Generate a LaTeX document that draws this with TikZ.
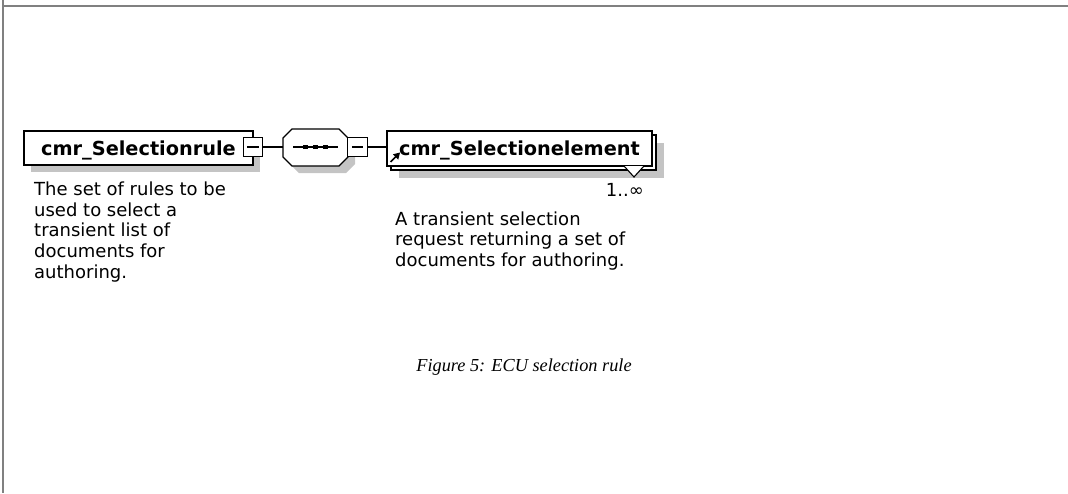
\documentclass[tikz,border=0pt]{standalone}
\usepackage{fontspec}
\setmainfont{DejaVu Sans}
\newfontfamily\capfont{Liberation Serif}
\definecolor{framegray}{HTML}{808080}
\definecolor{shadowgray}{HTML}{C4C4C4}
\tikzset{
  elembox/.style={draw, fill=white, line width=1.3pt, inner sep=0pt, outer sep=0pt,
    font=\bfseries\fontsize{19.3}{22}\selectfont, text height=14pt, text depth=0pt},
  shadowbox/.style={fill=shadowgray, draw=none, inner sep=0pt, outer sep=0pt},
  collapse/.style={draw, fill=white, line width=1.2pt, minimum size=19.5pt, inner sep=0pt, outer sep=0pt},
  seqanchor/.style={draw=none, inner sep=0pt, outer sep=0pt, minimum width=65pt, minimum height=37pt},
  desc/.style={align=left, inner sep=0pt, font=\fontsize{18}{20.6}\selectfont},
  wire/.style={line width=1.2pt},
}
% octagon outline of the sequence compositor, centred on the current origin
\def\octpath{(-32.5,-9.5) -- (-23.5,-18.5) -- (23.5,-18.5) -- (32.5,-9.5) -- (32.5,9.5) -- (23.5,18.5) -- (-23.5,18.5) -- (-32.5,9.5) -- cycle}
\begin{document}
\begin{tikzpicture}[x=1pt,y=-1pt]
\useasboundingbox (0,0) rectangle (1068,493);

% page frame
\draw[framegray, line width=1.6pt] (3,0) -- (3,493);
\draw[framegray, line width=1.6pt] (3,6) -- (1068,6);

% shadows
\node[shadowbox, minimum width=229pt, minimum height=34pt] (ruleshadow) at (145.5,155) {};
\begin{scope}[shift={(322.5,154.5)}]
  \fill[shadowgray] \octpath;
\end{scope}
\node[shadowbox, minimum width=265pt, minimum height=35pt] (elemshadow) at (531.5,160.5) {};

% element cmr_Selectionrule
\node[elembox, minimum width=229pt, minimum height=34pt] (rule) at (138.5,148) {cmr\_Selectionrule};
\node[collapse] (sq1) at (253,147) {};
\draw[line width=1.2pt] ([xshift=4pt]sq1.west) -- ([xshift=-4pt]sq1.east);

% sequence compositor
\node[seqanchor] (seq) at (315.5,147.5) {};
\begin{scope}[shift={(seq.center)}]
  \filldraw[fill=white, line width=1.2pt] \octpath;
\end{scope}
\draw[line width=1.2pt] (293,147) -- (338,147);
\foreach \dx in {305,315,325} \fill (\dx-2.5,145) rectangle (\dx+2.5,149);
\node[collapse] (sq2) at (357.5,147) {};
\draw[line width=1.2pt] ([xshift=4pt]sq2.west) -- ([xshift=-4pt]sq2.east);

% element cmr_Selectionelement (repeated: stacked boxes)
\node[elembox, minimum width=265pt, minimum height=35pt] (back) at (523.5,152.5) {};
\node[elembox, minimum width=265pt, minimum height=35pt] (sel) at (519.5,148.5) {cmr\_Selectionelement};
\draw[line width=1.6pt] (390.5,162) -- (396,156.5);
\fill (400,152.5) -- (392.8,154.3) -- (398.2,159.7) -- cycle;
\draw[line width=1.1pt, fill=white] (624,166) -- (634,177) -- (644,166);

% connectors
\draw[wire] (sq1.east) -- (sq1.east -| seq.west);
\draw[wire] (sq2.east) -- (sq2.east -| sel.west);

% cardinality and annotations
\node[desc, anchor=base east] (card) at (644,196.5) {1..∞};
\node[desc, anchor=base west] (d1) at (34,278) {The set of rules to be\\used to select a\\transient list of\\documents for\\authoring.};
\node[desc, anchor=base west] (d2) at (395,266.5) {A transient selection\\request returning a set of\\documents for authoring.};

% caption
\node[font=\capfont\itshape\fontsize{18.3}{22}\selectfont, anchor=base, inner sep=0pt] (cap) at (524,371) {Figure 5: ECU selection rule};
\end{tikzpicture}
\end{document}
